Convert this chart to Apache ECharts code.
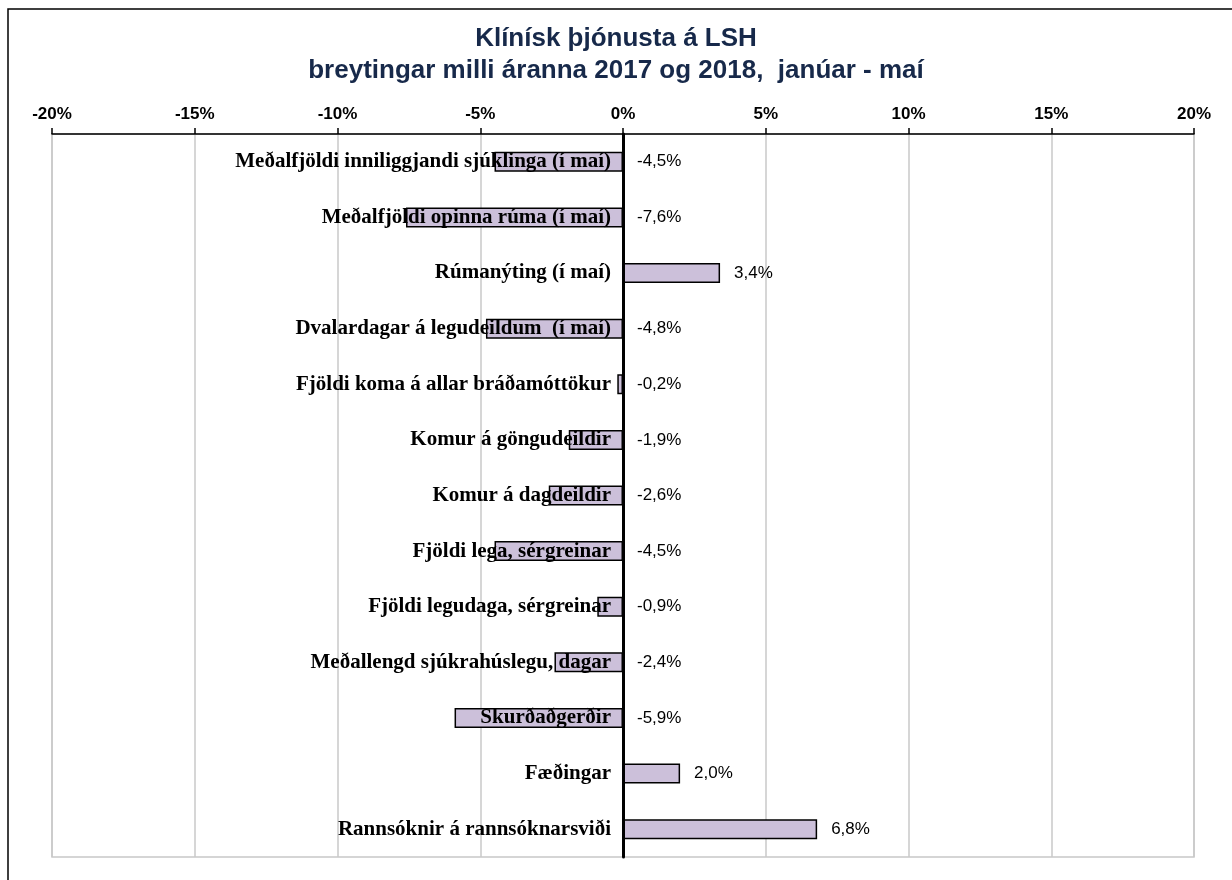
<!DOCTYPE html>
<html>
<head>
<meta charset="utf-8">
<script src="https://cdn.jsdelivr.net/npm/echarts@6/dist/echarts.min.js"></script>
<style>
html,body{margin:0;padding:0;background:#fff;}
#chart{width:1232px;height:880px;}
</style>
</head>
<body>
<div id="chart"></div>
<script>
// flokkar og breytingar i %
var categories = [
    'Meðalfjöldi inniliggjandi sjúklinga (í maí)',
    'Meðalfjöldi opinna rúma (í maí)',
    'Rúmanýting (í maí)',
    'Dvalardagar á legudeildum  (í maí)',
    'Fjöldi koma á allar bráðamóttökur',
    'Komur á göngudeildir',
    'Komur á dagdeildir',
    'Fjöldi lega, sérgreinar',
    'Fjöldi legudaga, sérgreinar',
    'Meðallengd sjúkrahúslegu, dagar',
    'Skurðaðgerðir',
    'Fæðingar',
    'Rannsóknir á rannsóknarsviði'
];
var values = [-4.5, -7.6, 3.4, -4.8, -0.2, -1.9, -2.6, -4.5, -0.9, -2.4, -5.9, 2.0, 6.8];
var ticks = [-20, -15, -10, -5, 0, 5, 10, 15, 20];

var mychart = echarts.init(document.getElementById('chart'));

// gildismerki: haegra megin vid nullinn eda enda sulu
var labeldat = [];
var namedat = [];
for (var i = 0; i < values.length; i++) {
    labeldat.push([Math.max(values[i], 0), i]);
    namedat.push([0, i]);
}

var option = {
    animation: false,
    title: {
        text: 'Klínísk þjónusta á LSH\nbreytingar milli áranna 2017 og 2018,  janúar - maí',
        left: 'center',
        top: 18,
        textStyle: {
            fontFamily: 'Liberation Sans, Arial',
            fontWeight: 'bold',
            fontSize: 26,
            lineHeight: 32,
            color: '#17294a'
        }
    },
    graphic: [{
        type: 'rect',
        shape: {x: 8, y: 9, width: 1240, height: 900},
        style: {fill: null, stroke: '#000', lineWidth: 1.5},
        silent: true
    }],
    grid: {
        left: 52,
        right: 38,
        top: 134,
        bottom: 23,
        containLabel: false,
        outerBoundsMode: 'none',
        show: true,
        borderColor: '#c8c8c8',
        borderWidth: 1.5
    },
    xAxis: {
        type: 'value',
        position: 'top',
        min: ticks[0],
        max: ticks[ticks.length - 1],
        interval: 5,
        axisLine: {show: true, lineStyle: {color: '#000', width: 1.5}},
        axisTick: {show: true, length: 6, lineStyle: {color: '#000', width: 1.5}},
        axisLabel: {
            formatter: '{value}%',
            margin: 11,
            fontFamily: 'Liberation Sans, Arial',
            fontWeight: 'bold',
            fontSize: 17,
            color: '#000'
        },
        splitLine: {show: true, lineStyle: {color: '#c8c8c8', width: 1.5}}
    },
    yAxis: {
        type: 'category',
        inverse: true,
        data: categories,
        z: 10,
        axisLine: {show: true, onZero: true, lineStyle: {color: '#000', width: 3}},
        axisTick: {show: false},
        axisLabel: {show: false},
        splitLine: {show: false}
    },
    series: [
        {
            name: 'breyting',
            type: 'bar',
            barWidth: 20,
            data: values,
            itemStyle: {color: '#ccc0da', borderColor: '#000', borderWidth: 1.5}
        },
        {
            name: 'heiti',
            type: 'scatter',
            symbolSize: 0,
            data: namedat,
            silent: true,
            z: 5,
            itemStyle: {opacity: 1},
            label: {
                show: true,
                position: 'left',
                distance: 12,
                fontFamily: 'Liberation Serif, Times New Roman',
                fontWeight: 'bold',
                fontSize: 21,
                color: '#000',
                textBorderWidth: 0,
                formatter: function (p) {
                    return categories[p.dataIndex];
                }
            }
        },
        {
            name: 'gildi',
            type: 'scatter',
            symbolSize: 0,
            data: labeldat,
            silent: true,
            z: 5,
            itemStyle: {opacity: 1},
            label: {
                show: true,
                position: 'right',
                distance: 14,
                fontFamily: 'Liberation Sans, Arial',
                fontSize: 17,
                color: '#000',
                textBorderWidth: 0,
                formatter: function (p) {
                    return values[p.dataIndex].toFixed(1).replace('.', ',') + '%';
                }
            }
        }
    ]
};

if (option && typeof option === "object") {
    mychart.setOption(option, true);
}
</script>
</body>
</html>
